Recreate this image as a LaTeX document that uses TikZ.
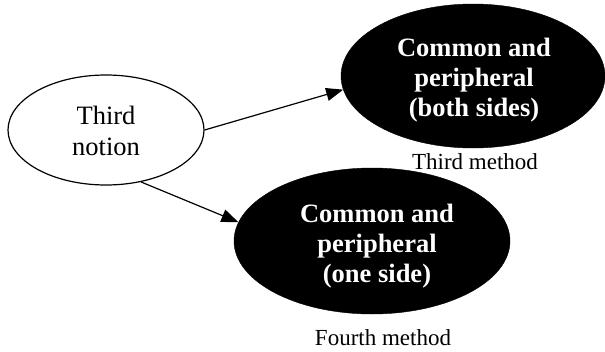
\documentclass[tikz,border=0pt]{standalone}
\usepackage{fontspec}
\setmainfont{Liberation Serif}
\usetikzlibrary{shapes.geometric,arrows.meta}
\begin{document}
\begin{tikzpicture}[x=1pt,y=-1pt,
  whiteell/.style={ellipse,draw=black,line width=1.2pt,fill=white,inner sep=0pt},
  blackell/.style={ellipse,draw=black,fill=black,inner sep=0pt},
  bigtext/.style={font=\fontsize{26.5}{31}\selectfont,align=center,inner sep=0pt},
  boldtext/.style={font=\fontsize{26.5}{30}\selectfont\bfseries,text=white,align=center,inner sep=0pt},
  captext/.style={font=\fontsize{23}{26}\selectfont,inner sep=0pt},
  conn/.style={line width=1.2pt,-{Triangle[length=17pt,width=13pt]}}]
\useasboundingbox (0,0) rectangle (605,351);
\node[whiteell,minimum width=196pt,minimum height=110pt] (notion) at (106,130) {};
\node[bigtext] (notiontext) at (106,131) {Third\\notion};
\node[blackell,minimum width=264pt,minimum height=144pt] (both) at (473,76) {};
\node[boldtext] (bothtext) at (474,80) {Common and\\peripheral\\(both sides)};
\node[captext] (third) at (475,162) {Third method};
\node[blackell,minimum width=276pt,minimum height=146pt] (one) at (372,241) {};
\node[boldtext] (onetext) at (377,246) {Common and\\peripheral\\(one side)};
\node[captext] (fourth) at (383,338) {Fourth method};
\draw[conn] (notion.east) -- (both.186);
\draw[conn] (notion.304) -- (one.172);
\end{tikzpicture}
\end{document}
